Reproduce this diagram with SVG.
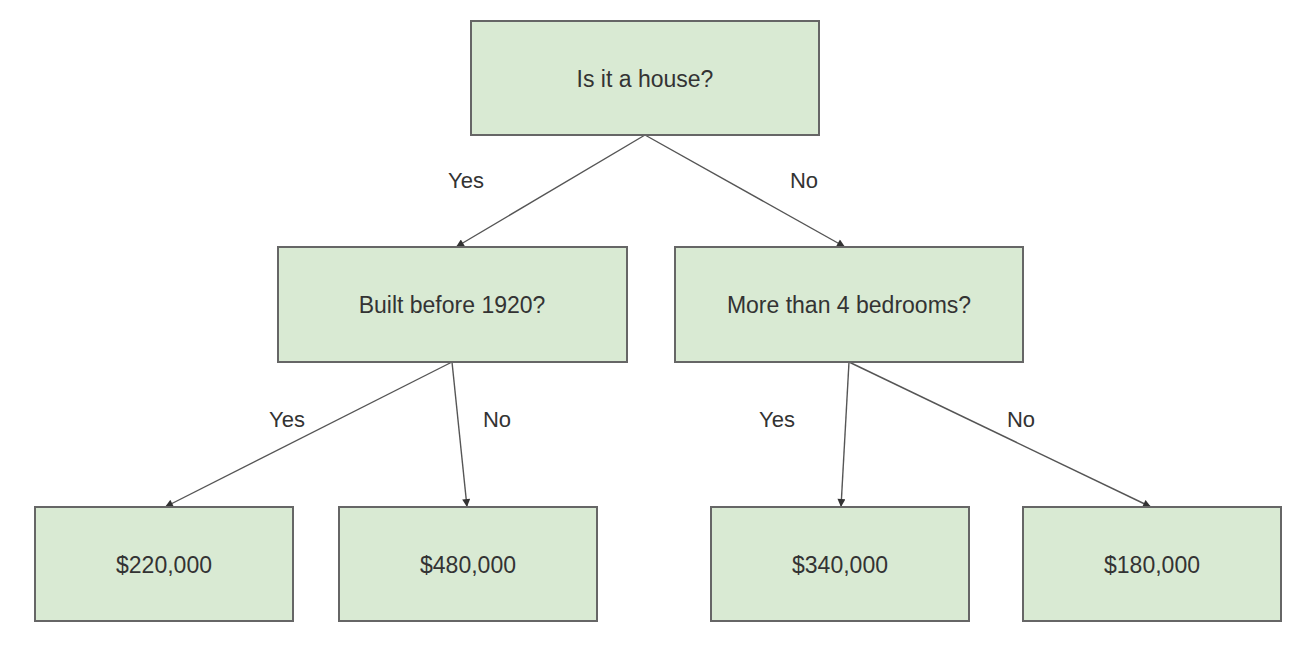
<svg xmlns="http://www.w3.org/2000/svg" width="1308" height="652" viewBox="0 0 1308 652">
<style>
.box{fill:#d9ead3;stroke:#666;stroke-width:2}
.t{font-family:"Liberation Sans",Arial,sans-serif;font-size:23px;fill:#333;text-anchor:middle}
.l{font-family:"Liberation Sans",Arial,sans-serif;font-size:22px;fill:#333;text-anchor:middle}
.c{stroke:#555;stroke-width:1.4;fill:none;marker-end:url(#ah)}
</style>
<defs>
<marker id="ah" markerUnits="userSpaceOnUse" viewBox="0 0 10 10" refX="10" refY="5" markerWidth="9" markerHeight="8" orient="auto">
<path d="M0,0 L10,5 L0,10 z" fill="#333"/>
</marker>
</defs>
<rect width="1308" height="652" fill="#fff"/>
<g id="connectors">
<line class="c" x1="645" y1="135" x2="456" y2="247"/>
<line class="c" x1="645" y1="135" x2="845" y2="247"/>
<line class="c" x1="452" y1="362" x2="165" y2="507"/>
<line class="c" x1="452" y1="362" x2="467" y2="507"/>
<line class="c" x1="849" y1="362" x2="841" y2="507"/>
<line class="c" x1="849" y1="362" x2="1151" y2="507"/>
<text class="l" x="466" y="188">Yes</text>
<text class="l" x="804" y="188">No</text>
<text class="l" x="287" y="427">Yes</text>
<text class="l" x="497" y="427">No</text>
<text class="l" x="777" y="427">Yes</text>
<text class="l" x="1021" y="427">No</text>
</g>
<g id="root"><rect class="box" x="471" y="21" width="348" height="114"/><text class="t" x="645" y="87">Is it a house?</text></g>
<g id="built"><rect class="box" x="278" y="247" width="349" height="115"/><text class="t" x="452" y="313">Built before 1920?</text></g>
<g id="bedrooms"><rect class="box" x="675" y="247" width="348" height="115"/><text class="t" x="849" y="313">More than 4 bedrooms?</text></g>
<g id="p220"><rect class="box" x="35" y="507" width="258" height="114"/><text class="t" x="164" y="573">$220,000</text></g>
<g id="p480"><rect class="box" x="339" y="507" width="258" height="114"/><text class="t" x="468" y="573">$480,000</text></g>
<g id="p340"><rect class="box" x="711" y="507" width="258" height="114"/><text class="t" x="840" y="573">$340,000</text></g>
<g id="p180"><rect class="box" x="1023" y="507" width="258" height="114"/><text class="t" x="1152" y="573">$180,000</text></g>
</svg>
